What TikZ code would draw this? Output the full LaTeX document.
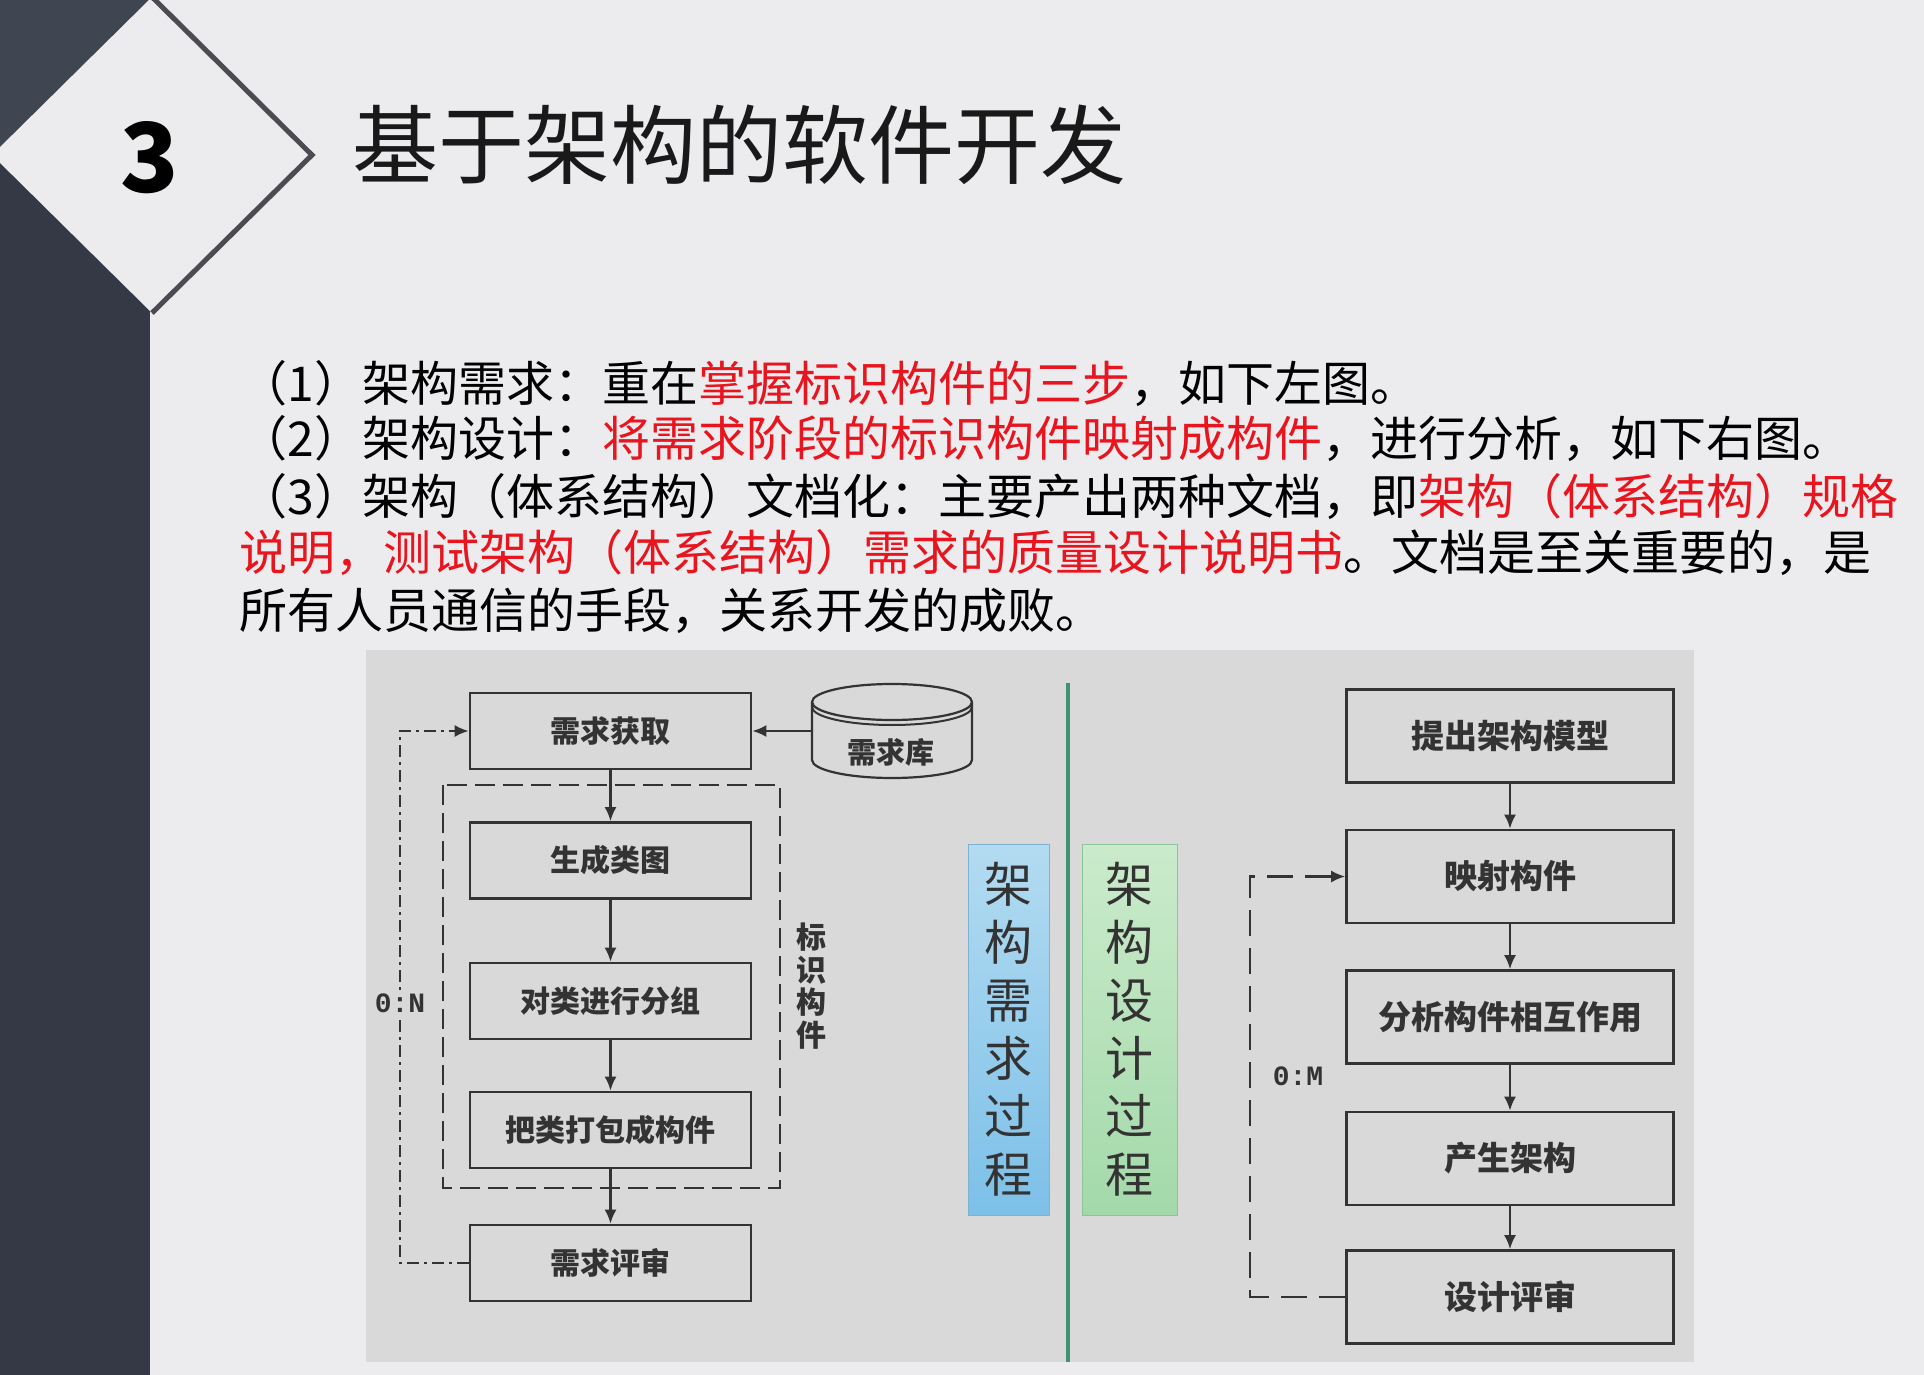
\documentclass[tikz,border=0pt]{standalone}
\usepackage{fontspec}
\setmainfont{Noto Sans CJK SC}
\newfontfamily\monofont{Liberation Mono}
\usetikzlibrary{arrows.meta,positioning}
\definecolor{slidebg}{HTML}{ECEBEE}
\definecolor{sidebar}{HTML}{343945}
\definecolor{sidebarhi}{HTML}{3F4551}
\definecolor{diamondedge}{HTML}{4A4C52}
\definecolor{panel}{HTML}{D9D9D9}
\definecolor{ink}{HTML}{333333}
\definecolor{hilite}{HTML}{E8141E}
\definecolor{reqblueA}{HTML}{B3DBF1}
\definecolor{reqblueB}{HTML}{7DC0E8}
\definecolor{reqedge}{HTML}{7FB2D2}
\definecolor{desgreenA}{HTML}{CBEBCB}
\definecolor{desgreenB}{HTML}{A3D9AA}
\definecolor{desedge}{HTML}{8DC59A}
\definecolor{divider}{HTML}{3F9272}

\begin{document}
\begin{tikzpicture}[x=.5pt,y=-.5pt,>={Latex[length=7pt,width=6pt]},
  lbox/.style={draw=ink,line width=1.3pt,minimum width=140.5pt,minimum height=38pt,inner sep=0pt,font=\fontsize{15}{15}\selectfont\bfseries,text=ink},
  rbox/.style={draw=ink,line width=1.3pt,minimum width=163.5pt,minimum height=46.5pt,inner sep=0pt,font=\fontsize{16.5}{16.5}\selectfont\bfseries,text=ink},
  flow/.style={->,line width=1.2pt,draw=ink},
  phase/.style={minimum width=40.5pt,minimum height=185.5pt,align=center,inner sep=0pt,font=\fontsize{24}{29}\selectfont},
  bodyline/.style={anchor=base west,inner sep=0pt,font=\fontsize{24}{24}\selectfont,text=black}]
\useasboundingbox (0,0) rectangle (1924,1375);
\fill[slidebg] (0,0) rectangle (1924,1375);
% side bar and number diamond
\fill[sidebar] (0,0) rectangle (150,1375);
\fill[sidebarhi] (0,0) -- (150,0) -- (0,157) -- cycle;
\fill[slidebg] (152,-3) -- (312,155) -- (152,313) -- (-8,155) -- cycle;
\draw[diamondedge,line width=2.5pt] (152,-3) -- (312,155) -- (152,313);
\node[anchor=base,inner sep=0pt,font=\fontsize{48}{48}\selectfont\bfseries,text=black] (secnum) at (150,193) {3};
\node[anchor=base west,inner sep=0pt,font=\fontsize{43}{43}\selectfont,text=black!90] (title) at (352,178) {基于架构的软件开发};
% body text
\node[bodyline] (item1) at (239,401) {（1）架构需求：重在\textcolor{hilite}{掌握标识构件的三步}，如下左图。};
\node[bodyline] (item2) at (239,457) {（2）架构设计：\textcolor{hilite}{将需求阶段的标识构件映射成构件}，进行分析，如下右图。};
\node[bodyline] (item3) at (239,515) {（3）架构（体系结构）文档化：主要产出两种文档，即\textcolor{hilite}{架构（体系结构）规格}};
\node[bodyline] (item3b) at (239,570) {\textcolor{hilite}{说明，测试架构（体系结构）需求的质量设计说明书}。文档是至关重要的，是};
\node[bodyline] (item3c) at (239,628) {所有人员通信的手段，关系开发的成败。};
% diagram panel
\fill[panel] (366,650) rectangle (1694,1362);
% left: requirement process
\node[lbox] (reqget) at (610.5,731) {需求获取};
\node[lbox] (genclass) at (610.5,860.5) {生成类图};
\node[lbox] (group) at (610.5,1001) {对类进行分组};
\node[lbox] (pack) at (610.5,1130) {把类打包成构件};
\node[lbox] (reqrev) at (610.5,1263) {需求评审};
\draw[ink,line width=1.1pt] (812,702) arc[start angle=180,end angle=-180,x radius=80,y radius=18] -- (812,760) arc[start angle=180,end angle=0,x radius=80,y radius=18] -- (972,702);
\draw[ink,line width=1pt] (812,707) arc[start angle=180,end angle=0,x radius=80,y radius=18];
\node[minimum width=80pt,inner sep=0pt,font=\fontsize{14.5}{14.5}\selectfont\bfseries,text=ink] (reqdb) at (891,752) {需求库};
\draw[flow] (reqdb.west |- reqget.east) -- (reqget.east);
\draw[ink,line width=1.1pt,dash pattern=on 10pt off 4pt] (443,785) rectangle (780,1188);
\node[align=center,inner sep=0pt,font=\fontsize{15}{16.2}\selectfont\bfseries,text=ink] (idlabel) at (811,986) {标\\识\\构\\件};
\foreach \a/\b in {reqget/genclass,genclass/group,group/pack,pack/reqrev}
  \draw[flow] (\a) -- (\b);
\draw[ink,line width=1.1pt,dash pattern=on 6pt off 2.5pt on 1.5pt off 2.5pt,->] (reqrev.west) -- ++(-69,0) |- (reqget.west);
\node[fill=panel,inner sep=1.5pt,font=\monofont\bfseries\fontsize{14}{14}\selectfont,text=ink] (loopn) at (400,1003) {0:N};
% middle: phase labels
\node[phase,draw=reqedge,top color=reqblueA,bottom color=reqblueB,text=ink] (reqphase) at (1008.5,1029.5) {架\\构\\需\\求\\过\\程};
\draw[divider,line width=2pt] (1068,683) -- (1068,1362);
\node[phase,minimum width=47.5pt,draw=desedge,top color=desgreenA,bottom color=desgreenB,text=ink] (desphase) at (1129.5,1029.5) {架\\构\\设\\计\\过\\程};
% right: design process
\node[rbox] (model) at (1510,736) {提出架构模型};
\node[rbox] (mapcomp) at (1510,876.5) {映射构件};
\node[rbox] (interact) at (1510,1017) {分析构件相互作用};
\node[rbox] (genarch) at (1510,1158.5) {产生架构};
\node[rbox] (desrev) at (1510,1297) {设计评审};
\foreach \a/\b in {model/mapcomp,mapcomp/interact,interact/genarch,genarch/desrev}
  \draw[flow] (\a) -- (\b);
\draw[ink,line width=1.1pt,dash pattern=on 13pt off 6pt,->] (desrev.west) -- ++(-95,0) |- (mapcomp.west);
\node[inner sep=0pt,font=\monofont\bfseries\fontsize{14}{14}\selectfont,text=ink] (loopm) at (1298,1076) {0:M};
\end{tikzpicture}
\end{document}
